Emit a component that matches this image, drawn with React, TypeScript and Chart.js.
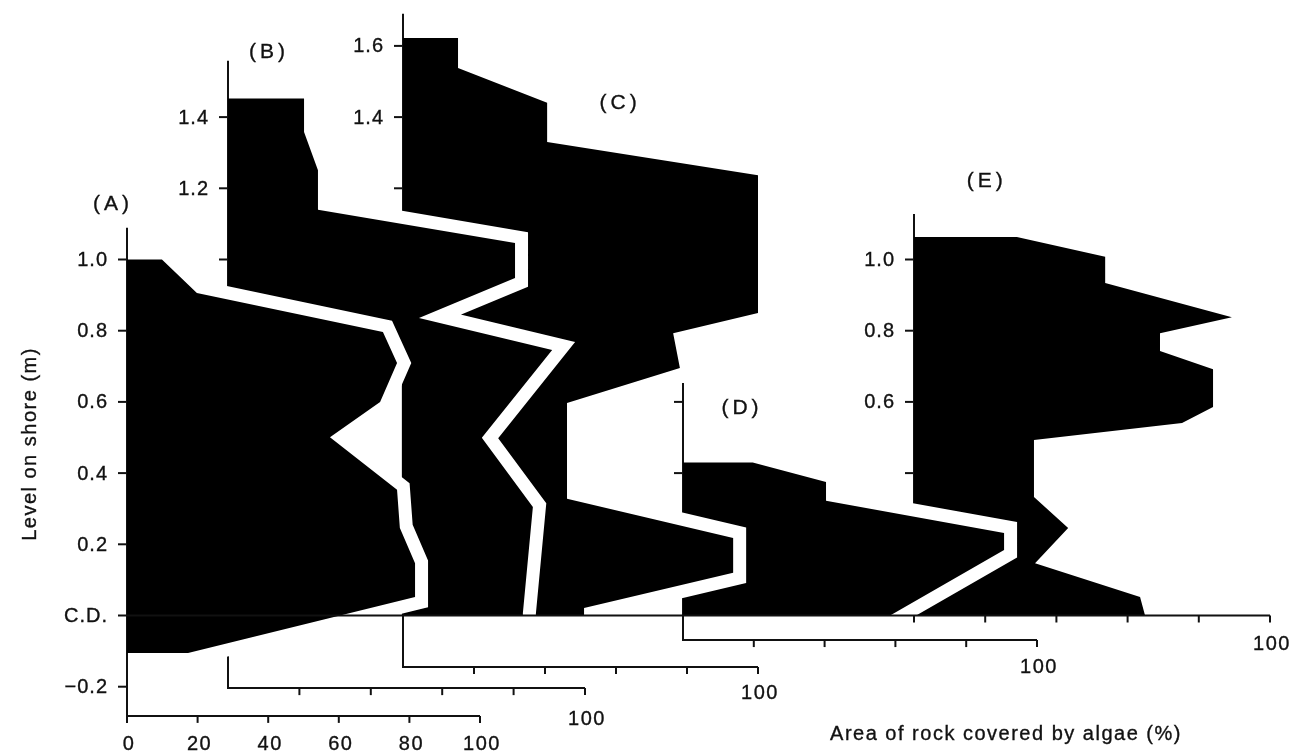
import React, { useEffect, useRef } from "react";
import { Chart, registerables } from "chart.js";

Chart.register(...registerables);

const W = 1295;
const H = 751;

// ---------------- data (cover % vs level on shore, m above C.D.) ----------------
const profileNames = ["(A)", "(B)", "(C)", "(D)", "(E)"];

// right-hand outline of each black area, from top to bottom
const coverA = [9.9, 19.8, 72.5, 76.5, 71.7, 57.5, 76.5, 77.3, 81.6, 81.6, 17.3];
const levelA = [1.0, 0.906, 0.796, 0.709, 0.6, 0.501, 0.353, 0.246, 0.147, 0.052, -0.105];

const coverB = [21.3, 21.3, 25.2, 25.2, 80.4, 80.4, 53.5, 90.8, 71.1, 85.4, 82.6, 82.6];
const levelB = [1.452, 1.358, 1.251, 1.14, 1.046, 0.948, 0.836, 0.746, 0.499, 0.305, 0.007, 0];
// lower part of B's black area starts away from its axis (seen in the notch of A)
const innerCoverB = [48.7, 48.7];
const innerLevelB = [0, 0.66];

const coverC = [15.5, 15.5, 40.6, 40.6, 100, 100, 76.1, 78.0, 46.2, 46.2, 93.0, 93.0, 51.0, 51.0];
const levelC = [1.622, 1.538, 1.44, 1.33, 1.237, 0.85, 0.793, 0.695, 0.597, 0.328, 0.218, 0.12, 0.021, 0];

const coverD = [19.7, 40.4, 40.4, 90.7, 90.7, 58.5];
const levelD = [0.43, 0.375, 0.322, 0.232, 0.184, 0];

const coverE = [28.9, 53.7, 53.7, 89.3, 69.1, 69.1, 84.0, 84.0, 75.3, 33.7, 33.7, 43.3, 34.0, 63.5, 64.9];
const levelE = [1.063, 1.008, 0.934, 0.838, 0.793, 0.743, 0.692, 0.586, 0.541, 0.493, 0.333, 0.246, 0.147, 0.052, 0];

// ---------------- ticks ----------------
const coverTicks = [0, 20, 40, 60, 80, 100];
const coverTickLabelsA = ["0", "20", "40", "60", "80", "100"];
const coverTickLabelsOther = ["", "", "", "", "", "100"];

const levelTicksA = [-0.2, 0, 0.2, 0.4, 0.6, 0.8, 1.0];
const levelLabelsA = ["\u22120.2", "C.D.", "0.2", "0.4", "0.6", "0.8", "1.0"];
const levelTicksB = [1.0, 1.2, 1.4];
const levelLabelsB = ["", "1.2", "1.4"];
const levelTicksC = [1.2, 1.4, 1.6];
const levelLabelsC = ["", "1.4", "1.6"];
const levelTicksD = [0.4, 0.6];
const levelLabelsD = ["", ""];
const levelTicksE = [0.4, 0.6, 0.8, 1.0];
const levelLabelsE = ["", "0.6", "0.8", "1.0"];

const yTitle = "Level on shore (m)";
const xTitle = "Area of rock covered by algae (%)";

// ---------------- layout (pixels / axis extents) ----------------
const CD_PX = 615.5;
const PX_PER_M = 356;

type Prof = {
  id: string;
  originPx: number;
  pxPer100: number;
  axisTop: number;
  axisBase: number;
  labelDy: number;
  cover: number[];
  level: number[];
  innerCover: number[];
  innerLevel: number[];
  levelTicks: number[];
  levelLabels: string[];
  coverLabels: string[];
  namePos: [number, number];
};

const profiles: Prof[] = [
  { id: "xA", originPx: 127, pxPer100: 353, axisTop: 1.089, axisBase: -0.282, labelDy: 29,
    cover: coverA, level: levelA, innerCover: [], innerLevel: [],
    levelTicks: levelTicksA, levelLabels: levelLabelsA, coverLabels: coverTickLabelsA, namePos: [-4.5, 1.155] },
  { id: "xB", originPx: 228, pxPer100: 357, axisTop: 1.558, axisBase: -0.204, labelDy: 31,
    cover: coverB, level: levelB, innerCover: innerCoverB, innerLevel: innerLevelB,
    levelTicks: levelTicksB, levelLabels: levelLabelsB, coverLabels: coverTickLabelsOther, namePos: [10.9, 1.583] },
  { id: "xC", originPx: 403, pxPer100: 355, axisTop: 1.69, axisBase: -0.145, labelDy: 26,
    cover: coverC, level: levelC, innerCover: [], innerLevel: [],
    levelTicks: levelTicksC, levelLabels: levelLabelsC, coverLabels: coverTickLabelsOther, namePos: [60.6, 1.44] },
  { id: "xD", originPx: 683, pxPer100: 354, axisTop: 0.653, axisBase: -0.069, labelDy: 27,
    cover: coverD, level: levelD, innerCover: [], innerLevel: [],
    levelTicks: levelTicksD, levelLabels: levelLabelsD, coverLabels: coverTickLabelsOther, namePos: [16.1, 0.583] },
  { id: "xE", originPx: 914, pxPer100: 356, axisTop: 1.128, axisBase: 0, labelDy: 29,
    cover: coverE, level: levelE, innerCover: [], innerLevel: [],
    levelTicks: levelTicksE, levelLabels: levelLabelsE, coverLabels: coverTickLabelsOther, namePos: [19.9, 1.22] },
];

const FONT = '"Liberation Sans", Arial, Helvetica, sans-serif';
const HALO = 26;

function buildDatasets() {
  const ds: any[] = [];
  profiles.forEach((p) => {
    const outline = p.cover.map((c, i) => ({ x: c, y: p.level[i] }));
    const inner = p.innerCover.map((c, i) => ({ x: c, y: p.innerLevel[i] }));
    const lastLevel = inner.length ? p.innerLevel[p.innerLevel.length - 1] : p.level[p.level.length - 1];
    const polygon = [{ x: 0, y: p.level[0] }, ...outline, ...inner, { x: 0, y: lastLevel }];
    ds.push({
      label: p.id + "-area",
      data: polygon,
      xAxisID: p.id,
      yAxisID: "y",
      fill: "shape",
      backgroundColor: "#000",
      borderColor: "rgba(0,0,0,0)",
      borderWidth: 0,
      pointRadius: 0,
      pointHoverRadius: 0,
      tension: 0,
    });
    ds.push({
      label: p.id + "-outline",
      data: outline,
      xAxisID: p.id,
      yAxisID: "y",
      fill: false,
      backgroundColor: "#fff",
      borderColor: "#fff",
      borderWidth: HALO,
      borderJoinStyle: "miter",
      borderCapStyle: "butt",
      pointRadius: 0,
      pointHoverRadius: 0,
      tension: 0,
    });
  });
  return ds;
}

function setSpacing(ctx: any, s: string) {
  if ("letterSpacing" in ctx) ctx.letterSpacing = s;
}

function heavyText(ctx: any, text: string, x: number, y: number) {
  ctx.lineWidth = 0.35;
  ctx.strokeText(text, x, y);
  ctx.fillText(text, x, y);
  ctx.lineWidth = 2;
}

const axesPlugin = {
  id: "profileAxes",
  beforeDatasetsDraw(chart: any) {
    const ctx = chart.ctx;
    const ys = chart.scales.y;
    ctx.save();
    ctx.strokeStyle = "#111";
    ctx.fillStyle = "#111";
    ctx.lineWidth = 2;
    ctx.lineCap = "butt";
    ctx.lineJoin = "miter";
    profiles.forEach((p, idx) => {
      const xs = chart.scales[p.id];
      const x0 = xs.getPixelForValue(0);
      const yTop = ys.getPixelForValue(p.axisTop);
      const yBase = ys.getPixelForValue(p.axisBase);
      // vertical axis
      ctx.beginPath();
      ctx.moveTo(x0, yTop);
      ctx.lineTo(x0, yBase);
      if (idx < profiles.length - 1) {
        ctx.lineTo(xs.getPixelForValue(100), yBase);
      }
      ctx.stroke();
      // level ticks
      ctx.font = `20px ${FONT}`;
      setSpacing(ctx, "1px");
      ctx.textAlign = "right";
      ctx.textBaseline = "middle";
      p.levelTicks.forEach((lv, i) => {
        const y = ys.getPixelForValue(lv);
        ctx.beginPath();
        ctx.moveTo(x0 - 9, y);
        ctx.lineTo(x0, y);
        ctx.stroke();
        if (p.levelLabels[i]) heavyText(ctx, p.levelLabels[i], x0 - 19, y + 1);
      });
      // cover ticks on the horizontal axis
      if (idx < profiles.length - 1) {
        ctx.textAlign = "center";
        ctx.textBaseline = "middle";
        setSpacing(ctx, "1.5px");
        coverTicks.forEach((cv, i) => {
          if (idx > 0 && cv === 0) return;
          const x = xs.getPixelForValue(cv);
          ctx.beginPath();
          ctx.moveTo(x, yBase);
          ctx.lineTo(x, yBase + 7);
          ctx.stroke();
          const lab = p.coverLabels[i];
          if (lab) heavyText(ctx, lab, x + 2, yBase + p.labelDy);
        });
      }
      // profile name
      ctx.font = `21px ${FONT}`;
      setSpacing(ctx, "4px");
      ctx.textAlign = "center";
      ctx.textBaseline = "middle";
      heavyText(ctx, profileNames[idx], xs.getPixelForValue(p.namePos[0]) + 2, ys.getPixelForValue(p.namePos[1]));
    });
    // axis titles
    ctx.font = `20px ${FONT}`;
    setSpacing(ctx, "1.5px");
    ctx.textAlign = "center";
    ctx.textBaseline = "middle";
    heavyText(ctx, xTitle, 1006, 734);
    ctx.save();
    ctx.translate(30, 444);
    ctx.rotate(-Math.PI / 2);
    heavyText(ctx, yTitle, 0, 0);
    ctx.restore();
    ctx.restore();
  },
  afterDatasetsDraw(chart: any) {
    // C.D. datum line, which is also the cover axis of profile E
    const ctx = chart.ctx;
    const ys = chart.scales.y;
    const pE = profiles[profiles.length - 1];
    const xsE = chart.scales[pE.id];
    const xsA = chart.scales[profiles[0].id];
    const y = ys.getPixelForValue(0);
    ctx.save();
    ctx.strokeStyle = "#111";
    ctx.fillStyle = "#111";
    ctx.lineWidth = 2;
    ctx.beginPath();
    ctx.moveTo(xsA.getPixelForValue(0), y);
    ctx.lineTo(xsE.getPixelForValue(100), y);
    ctx.stroke();
    ctx.font = `20px ${FONT}`;
    setSpacing(ctx, "1.5px");
    ctx.textAlign = "center";
    ctx.textBaseline = "middle";
    coverTicks.forEach((cv, i) => {
      const x = xsE.getPixelForValue(cv);
      ctx.beginPath();
      ctx.moveTo(x, y);
      ctx.lineTo(x, y + 7);
      ctx.stroke();
      const lab = pE.coverLabels[i];
      if (lab) heavyText(ctx, lab, x + 2, y + pE.labelDy);
    });
    ctx.restore();
  },
};

function buildScales() {
  const scales: any = {
    y: {
      type: "linear",
      min: (CD_PX - H) / PX_PER_M,
      max: CD_PX / PX_PER_M,
      display: false,
    },
  };
  profiles.forEach((p) => {
    scales[p.id] = {
      type: "linear",
      axis: "x",
      position: "bottom",
      min: (-p.originPx / p.pxPer100) * 100,
      max: ((W - p.originPx) / p.pxPer100) * 100,
      display: false,
    };
  });
  return scales;
}

export default function App() {
  const ref = useRef<HTMLCanvasElement | null>(null);
  useEffect(() => {
    const canvas = ref.current;
    if (!canvas) return;
    const chart = new Chart(canvas, {
      type: "line",
      data: { datasets: buildDatasets() },
      options: {
        responsive: false,
        devicePixelRatio: 1,
        animation: false,
        events: [],
        layout: { padding: 0 },
        plugins: { legend: { display: false }, tooltip: { enabled: false }, title: { display: false } },
        scales: buildScales(),
      },
      plugins: [axesPlugin],
    } as any);
    return () => chart.destroy();
  }, []);
  return (
    <div style={{ position: "absolute", left: 0, top: 0, width: W, height: H, background: "#fff" }}>
      <canvas ref={ref} width={W} height={H} style={{ display: "block", width: W, height: H }} />
    </div>
  );
}
